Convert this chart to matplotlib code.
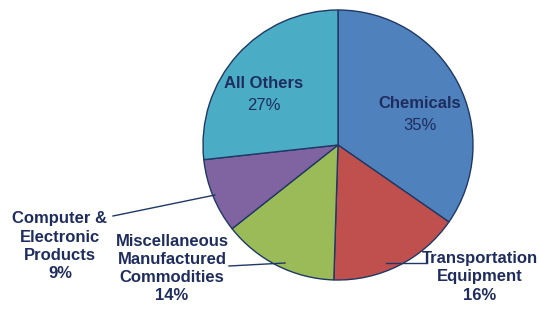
import numpy as np
import matplotlib.pyplot as plt

labels = ['Chemicals', 'Transportation\nEquipment', 'Miscellaneous\nManufactured\nCommodities',
          'Computer &\nElectronic\nProducts', 'All Others']
shares = [35, 16, 14, 9, 27]
colors = ['#4F81BD', '#C0504D', '#9BBB59', '#8064A2', '#4BACC6']

plt.rcParams['font.family'] = ['Liberation Sans Narrow', 'Liberation Sans', 'DejaVu Sans']
navy = '#1F2D5E'

fig = plt.figure(figsize=(5.39, 3.11), dpi=100)
# pie centre around (338,145) px, radius ~135 px
r = 135
ax = fig.add_axes([(338 - r) / 539, (166 - r) / 311, 2 * r / 539, 2 * r / 311])
ax.pie(shares, colors=colors, startangle=90, counterclock=False,
       wedgeprops=dict(edgecolor='#1F3864', linewidth=1.0))
ax.set_xlim(-1, 1)
ax.set_ylim(-1, 1)
ax.set_aspect('equal')
ax.axis('off')

def px(x, y):
    return ((x - 338) / r, (145 - y) / r)

# inside labels
tx, ty = px(420, 104)
ax.text(tx, ty, labels[0], ha='center', va='center', fontsize=12, fontweight='bold', color=navy)
tx, ty = px(420, 126)
ax.text(tx, ty, '%d%%' % shares[0], ha='center', va='center', fontsize=12, color=navy)
tx, ty = px(264, 84)
ax.text(tx, ty, labels[4], ha='center', va='center', fontsize=12, fontweight='bold', color=navy)
tx, ty = px(264, 106)
ax.text(tx, ty, '%d%%' % shares[4], ha='center', va='center', fontsize=12, color=navy)

# outside labels with leader lines
outside = [
    (1, (480, 277), [(386, 263), (427, 263)]),
    (2, (172, 268), [(285, 263), (229, 266)]),
    (3, (60, 246), [(215, 195), (113, 216)]),
]
for i, (cx, cy), line in outside:
    txt = labels[i] + '\n%d%%' % shares[i]
    x, y = px(cx, cy)
    ax.text(x, y, txt, ha='center', va='center', fontsize=12, fontweight='bold',
            color=navy, linespacing=1.25, clip_on=False)
    xs = [px(*p)[0] for p in line]
    ys = [px(*p)[1] for p in line]
    ax.plot(xs, ys, color='#1F3864', lw=1.0, clip_on=False)

fig.savefig('out.png', dpi=100)
